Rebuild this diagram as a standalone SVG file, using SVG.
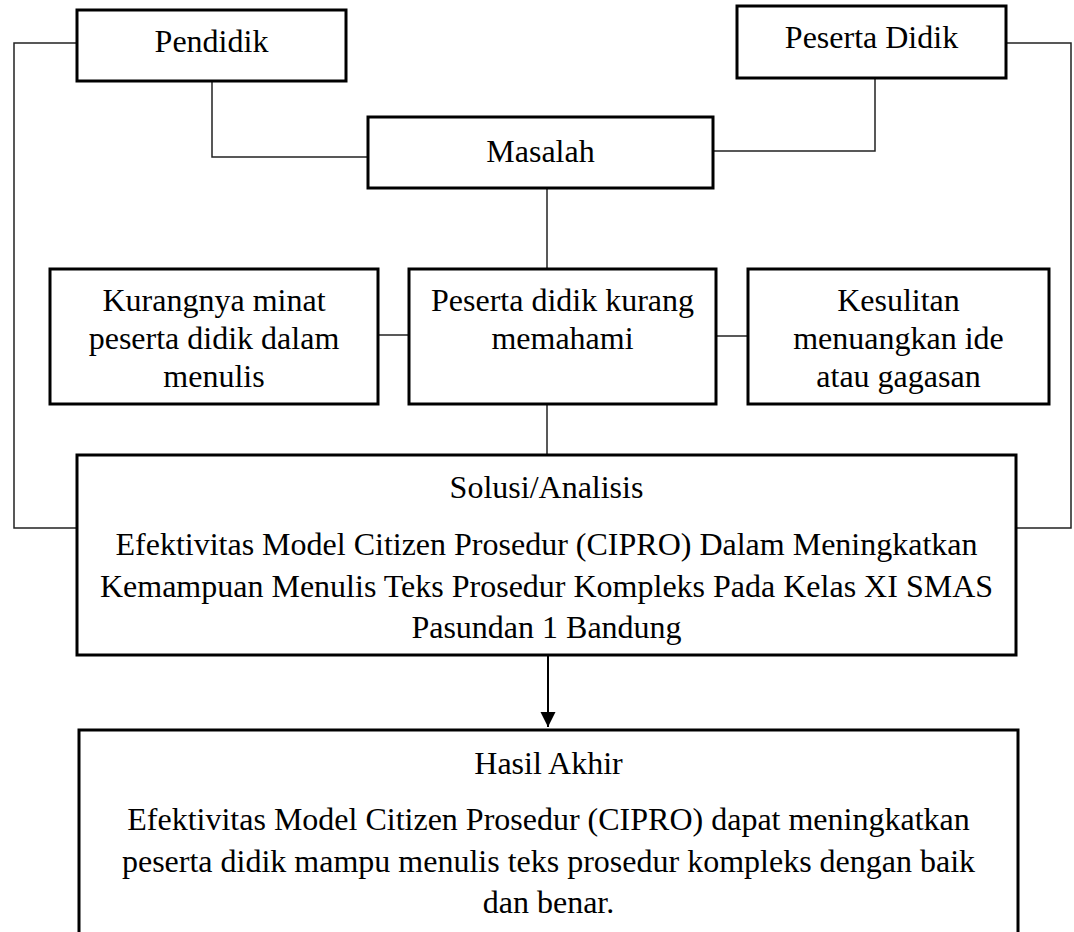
<svg xmlns="http://www.w3.org/2000/svg" width="1074" height="932" viewBox="0 0 1074 932">
<style>
.box{fill:#fff;stroke:#000;stroke-width:3}
.t{font-family:"Liberation Serif","Times New Roman",serif;font-size:32px;fill:#000;text-anchor:middle}
.c{fill:none;stroke:#222;stroke-width:1.5}
</style>
<defs>
<marker id="ah" markerWidth="15" markerHeight="16" refX="15" refY="7.5" orient="auto" markerUnits="userSpaceOnUse">
<path d="M0,0 L15,7.5 L0,15 Z" fill="#000"/>
</marker>
</defs>
<rect width="1074" height="932" fill="#fff"/>
<g id="connectors">
<polyline class="c" points="77,43 14,43 14,528 77,528"/>
<polyline class="c" points="1006,43 1071,43 1071,528 1016,528"/>
<polyline class="c" points="212,81 212,157 368,157"/>
<polyline class="c" points="875,78 875,151 713,151"/>
<line class="c" x1="547" y1="188" x2="547" y2="269"/>
<line class="c" x1="547" y1="404" x2="547" y2="455"/>
<line class="c" x1="378" y1="335" x2="409" y2="335"/>
<line class="c" x1="716" y1="336" x2="748" y2="336"/>
<line x1="548" y1="655" x2="548" y2="727" stroke="#000" stroke-width="2" marker-end="url(#ah)"/>
</g>
<g id="pendidik">
<rect class="box" x="77" y="10" width="269" height="71"/>
<text class="t" x="211.5" y="52">Pendidik</text>
</g>
<g id="peserta-didik">
<rect class="box" x="737" y="6" width="269" height="72"/>
<text class="t" x="871.5" y="48">Peserta Didik</text>
</g>
<g id="masalah">
<rect class="box" x="368" y="117" width="345" height="71"/>
<text class="t" x="540.5" y="162">Masalah</text>
</g>
<g id="kurangnya">
<rect class="box" x="50" y="269" width="328" height="135"/>
<text class="t" x="214" y="311">Kurangnya minat</text>
<text class="t" x="214" y="349">peserta didik dalam</text>
<text class="t" x="214" y="387">menulis</text>
</g>
<g id="kurang-memahami">
<rect class="box" x="409" y="269" width="307" height="135"/>
<text class="t" x="562.5" y="311">Peserta didik kurang</text>
<text class="t" x="562.5" y="349">memahami</text>
</g>
<g id="kesulitan">
<rect class="box" x="748" y="269" width="301" height="135"/>
<text class="t" x="898.5" y="311">Kesulitan</text>
<text class="t" x="898.5" y="349">menuangkan ide</text>
<text class="t" x="898.5" y="387">atau gagasan</text>
</g>
<g id="solusi">
<rect class="box" x="77" y="455" width="939" height="200"/>
<text class="t" x="546.5" y="498">Solusi/Analisis</text>
<text class="t" x="546.5" y="555">Efektivitas Model Citizen Prosedur (CIPRO) Dalam Meningkatkan</text>
<text class="t" x="546.5" y="597">Kemampuan Menulis Teks Prosedur Kompleks Pada Kelas XI SMAS</text>
<text class="t" x="546.5" y="638">Pasundan 1 Bandung</text>
</g>
<g id="hasil">
<rect class="box" x="79" y="730" width="939" height="220"/>
<text class="t" x="548.5" y="774">Hasil Akhir</text>
<text class="t" x="548.5" y="830">Efektivitas Model Citizen Prosedur (CIPRO) dapat meningkatkan</text>
<text class="t" x="548.5" y="872">peserta didik mampu menulis teks prosedur kompleks dengan baik</text>
<text class="t" x="548.5" y="913">dan benar.</text>
</g>
</svg>
